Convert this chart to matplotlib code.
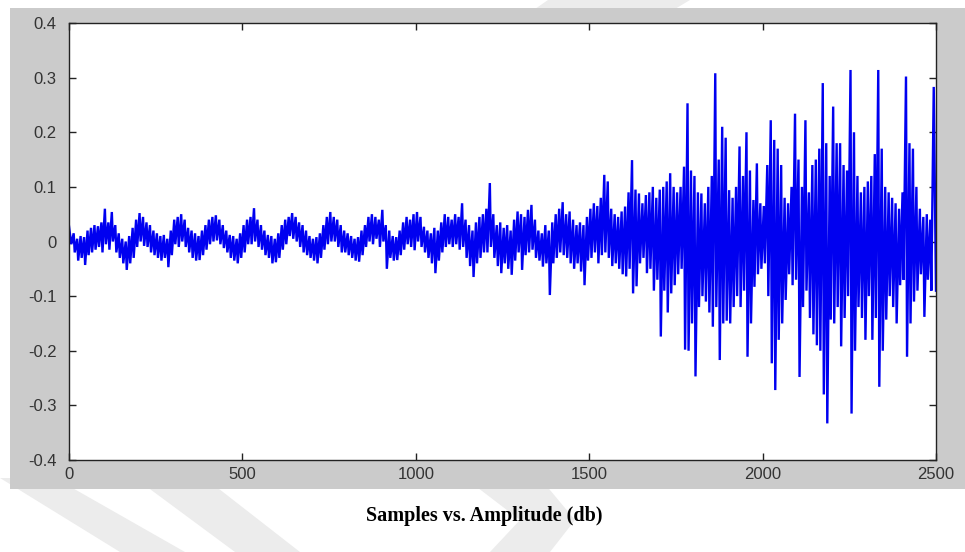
import matplotlib.pyplot as plt
from matplotlib.patches import Rectangle, Polygon
import numpy as np

# envelope: max / min of each 10-sample block (0..2500)
block_hi = [
    0.028, 0.015, 0.005, 0.01, 0.008, 0.02, 0.025, 0.03, 0.028, 0.035,
    0.06, 0.035, 0.054, 0.03, 0.015, 0.005, 0.0, 0.01, 0.025, 0.04,
    0.052, 0.045, 0.035, 0.03, 0.02, 0.015, 0.01, 0.012, 0.005, 0.02,
    0.04, 0.045, 0.05, 0.04, 0.025, 0.02, 0.015, 0.01, 0.02, 0.03,
    0.04, 0.045, 0.048, 0.04, 0.03, 0.02, 0.012, 0.01, 0.005, 0.015,
    0.03, 0.04, 0.045, 0.061, 0.04, 0.03, 0.02, 0.012, 0.01, 0.005,
    0.015, 0.03, 0.04, 0.045, 0.052, 0.045, 0.035, 0.03, 0.02, 0.01,
    0.005, 0.008, 0.015, 0.03, 0.045, 0.054, 0.045, 0.04, 0.03, 0.02,
    0.015, 0.01, 0.005, 0.008, 0.02, 0.03, 0.045, 0.05, 0.045, 0.04,
    0.058, 0.03, 0.02, 0.01, 0.008, 0.02, 0.035, 0.045, 0.04, 0.05,
    0.054, 0.045, 0.027, 0.02, 0.015, 0.025, 0.02, 0.035, 0.05, 0.045,
    0.04, 0.05, 0.045, 0.07, 0.04, 0.03, 0.02, 0.035, 0.045, 0.05,
    0.06, 0.107, 0.05, 0.03, 0.035, 0.025, 0.03, 0.02, 0.04, 0.055,
    0.05, 0.045, 0.058, 0.067, 0.04, 0.02, 0.015, 0.03, 0.02, 0.035,
    0.05, 0.06, 0.072, 0.05, 0.055, 0.04, 0.03, 0.035, 0.03, 0.045,
    0.06, 0.07, 0.065, 0.08, 0.122, 0.11, 0.06, 0.05, 0.045, 0.055,
    0.064, 0.09, 0.149, 0.095, 0.088, 0.07, 0.085, 0.09, 0.1, 0.08,
    0.095, 0.1, 0.11, 0.125, 0.1, 0.09, 0.1, 0.137, 0.253, 0.13,
    0.12, 0.09, 0.088, 0.07, 0.1, 0.12, 0.308, 0.15, 0.21, 0.19,
    0.094, 0.08, 0.1, 0.174, 0.12, 0.2, 0.13, 0.076, 0.143, 0.07,
    0.065, 0.14, 0.222, 0.186, 0.17, 0.14, 0.08, 0.07, 0.1, 0.234,
    0.15, 0.1, 0.222, 0.09, 0.14, 0.15, 0.17, 0.29, 0.18, 0.12,
    0.247, 0.18, 0.18, 0.14, 0.13, 0.314, 0.2, 0.12, 0.09, 0.1,
    0.11, 0.12, 0.16, 0.314, 0.17, 0.1, 0.09, 0.08, 0.07, 0.06,
    0.09, 0.302, 0.18, 0.17, 0.1, 0.06, 0.045, 0.05, 0.04, 0.283,
]
block_lo = [
    -0.005, -0.02, -0.035, -0.03, -0.043, -0.025, -0.02, -0.015, -0.01, -0.02,
    -0.005, -0.015, 0.0, -0.02, -0.03, -0.04, -0.052, -0.04, -0.03, -0.01,
    0.0, -0.008, -0.01, -0.02, -0.025, -0.03, -0.035, -0.03, -0.047, -0.025,
    -0.005, -0.01, 0.0, -0.01, -0.02, -0.03, -0.035, -0.034, -0.025, -0.015,
    -0.005, 0.0, 0.002, -0.005, -0.012, -0.02, -0.03, -0.035, -0.04, -0.03,
    -0.02, -0.005, -0.005, 0.0, -0.01, -0.015, -0.025, -0.03, -0.04, -0.038,
    -0.03, -0.015, -0.005, 0.01, 0.005, 0.0, -0.01, -0.02, -0.025, -0.03,
    -0.035, -0.04, -0.03, -0.015, -0.005, 0.0, 0.0, -0.01, -0.02, -0.02,
    -0.025, -0.03, -0.035, -0.037, -0.025, -0.01, 0.0, -0.005, 0.005, -0.01,
    0.0, -0.05, -0.03, -0.035, -0.034, -0.025, -0.015, -0.005, -0.01, -0.016,
    0.0, -0.01, -0.02, -0.03, -0.04, -0.058, -0.035, -0.02, -0.01, -0.005,
    -0.01, -0.005, -0.015, -0.01, -0.03, -0.045, -0.065, -0.04, -0.03, -0.02,
    -0.02, -0.01, -0.03, -0.045, -0.058, -0.04, -0.05, -0.061, -0.035, -0.02,
    -0.052, -0.025, -0.02, -0.015, -0.03, -0.035, -0.046, -0.04, -0.098, -0.04,
    -0.03, -0.02, -0.025, -0.03, -0.04, -0.05, -0.04, -0.055, -0.08, -0.035,
    -0.03, -0.02, -0.04, -0.025, -0.02, -0.03, -0.045, -0.04, -0.05, -0.06,
    -0.064, -0.05, -0.095, -0.082, -0.04, -0.03, -0.058, -0.05, -0.09, -0.07,
    -0.174, -0.09, -0.13, -0.095, -0.08, -0.06, -0.05, -0.198, -0.2, -0.15,
    -0.247, -0.12, -0.1, -0.11, -0.13, -0.156, -0.12, -0.217, -0.15, -0.145,
    -0.15, -0.12, -0.1, -0.12, -0.09, -0.211, -0.15, -0.083, -0.06, -0.05,
    -0.04, -0.1, -0.223, -0.272, -0.18, -0.15, -0.107, -0.06, -0.08, -0.07,
    -0.248, -0.12, -0.09, -0.14, -0.17, -0.19, -0.2, -0.28, -0.333, -0.143,
    -0.15, -0.12, -0.192, -0.14, -0.1, -0.315, -0.2, -0.12, -0.14, -0.18,
    -0.1, -0.18, -0.14, -0.266, -0.2, -0.143, -0.1, -0.12, -0.15, -0.08,
    -0.07, -0.211, -0.15, -0.11, -0.09, -0.06, -0.138, -0.07, -0.09, -0.09,
]
x_ticks = [0, 500, 1000, 1500, 2000, 2500]
y_ticks = [0.4, 0.3, 0.2, 0.1, 0, -0.1, -0.2, -0.3, -0.4]
y_labels = ['0.4', '0.3', '0.2', '0.1', '0', '-0.1', '-0.2', '-0.3', '-0.4']

# hi then lo inside every block -> dense spiky trace
n = len(block_hi)
samples = np.empty(2 * n)
amp = np.empty(2 * n)
samples[0::2] = np.arange(n) * 10 + 3.5
samples[1::2] = np.arange(n) * 10 + 6.5
amp[0::2] = block_hi
amp[1::2] = block_lo
samples[0] = 0
samples[-1] = 2500

W, H = 965, 552
fig = plt.figure(figsize=(W / 100, H / 100), dpi=100)
fig.patch.set_facecolor('white')

def px(pts):
    return [(x / W, 1 - y / H) for x, y in pts]

# faint watermark bands
wm = '#ececec'
for pts in [[(0, 478), (55, 478), (185, 552), (120, 552)],
            [(135, 478), (205, 478), (300, 552), (235, 552)],
            [(465, 478), (540, 478), (575, 520), (550, 552), (490, 552), (520, 520)],
            [(548, 0), (690, 0), (675, 9), (535, 9)]]:
    fig.patches.append(Polygon(px(pts), closed=True, transform=fig.transFigure,
                               facecolor=wm, edgecolor='none', zorder=0))

# grey matlab figure panel
fig.patches.append(Rectangle((10 / W, 1 - 489 / H), 955 / W, 481 / H,
                             transform=fig.transFigure, facecolor='#cbcbcb',
                             edgecolor='none', zorder=1))

ax = fig.add_axes([69 / W, 1 - 460 / H, 867 / W, 437 / H], zorder=2)
ax.set_facecolor('white')
ax.plot(samples, amp, color='#0000f0', linewidth=1.7, solid_joinstyle='miter')

ax.set_xlim(0, 2500)
ax.set_ylim(-0.4, 0.4)
ax.set_xticks(x_ticks)
ax.set_yticks(y_ticks)
ax.set_yticklabels(y_labels)
ax.tick_params(direction='in', length=5, width=1, colors='#222222',
               top=True, right=True, labelsize=12, labelcolor='#333333')
ax.tick_params(axis='x', pad=5)
ax.tick_params(axis='y', pad=9)
for lbl in ax.get_xticklabels() + ax.get_yticklabels():
    lbl.set_family('Liberation Sans')
for s in ax.spines.values():
    s.set_color('#222222')
    s.set_linewidth(1.0)

fig.text(484 / W, 1 - 516 / H, 'Samples vs. Amplitude (db)', ha='center', va='center',
         family='Liberation Serif', fontweight='bold', fontsize=14.5, color='black')

fig.savefig('out.png', dpi=100)
